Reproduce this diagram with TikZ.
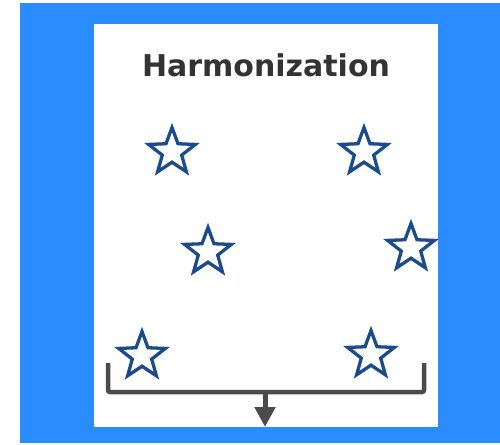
\documentclass[tikz,border=0pt]{standalone}
\usepackage{fontspec}
\setmainfont{DejaVu Sans}
\usetikzlibrary{shapes.geometric,arrows.meta}
\definecolor{bgblue}{HTML}{2B8CFF}
\definecolor{starblue}{HTML}{1C4B8C}
\definecolor{titlegray}{HTML}{333333}
\definecolor{bracketgray}{HTML}{4A4A4A}
\tikzset{
  starnode/.style={star, star points=5, star point ratio=2.4, minimum size=49pt, inner sep=0pt,
    draw=starblue, line width=3.3pt, fill=white},
  bracketline/.style={draw=bracketgray, line width=4.5pt, rounded corners=2pt},
  downarrow/.style={draw=bracketgray, line width=5pt, -{Triangle[width=20pt,length=20pt]}}
}
\begin{document}
\begin{tikzpicture}[x=1pt,y=-1pt]
\useasboundingbox (0,0) rectangle (500,444);
\fill[bgblue] (20,3) rectangle (500,443);
\fill[white] (94,24) rectangle (438,427);
\node[font=\fontsize{30}{36}\selectfont\bfseries, text=titlegray, anchor=base, inner sep=0pt] (title) at (266,77) {Harmonization};
\node[starnode] (s1) at (172,152) {};
\node[starnode] (s2) at (364,152) {};
\node[starnode] (s3) at (208,252) {};
\node[starnode] (s4) at (411,248) {};
\node[starnode] (s5) at (142,356) {};
\node[starnode] (s6) at (371,355) {};
\coordinate (bl) at (108,363);
\coordinate (br) at (424,363);
\coordinate (bm) at (265,392);
\coordinate (end) at (265,427);
\draw[bracketline] (bl) -- (bl |- bm) -- (br |- bm) -- (br);
\draw[downarrow] (bm) -- (end);
\end{tikzpicture}
\end{document}
